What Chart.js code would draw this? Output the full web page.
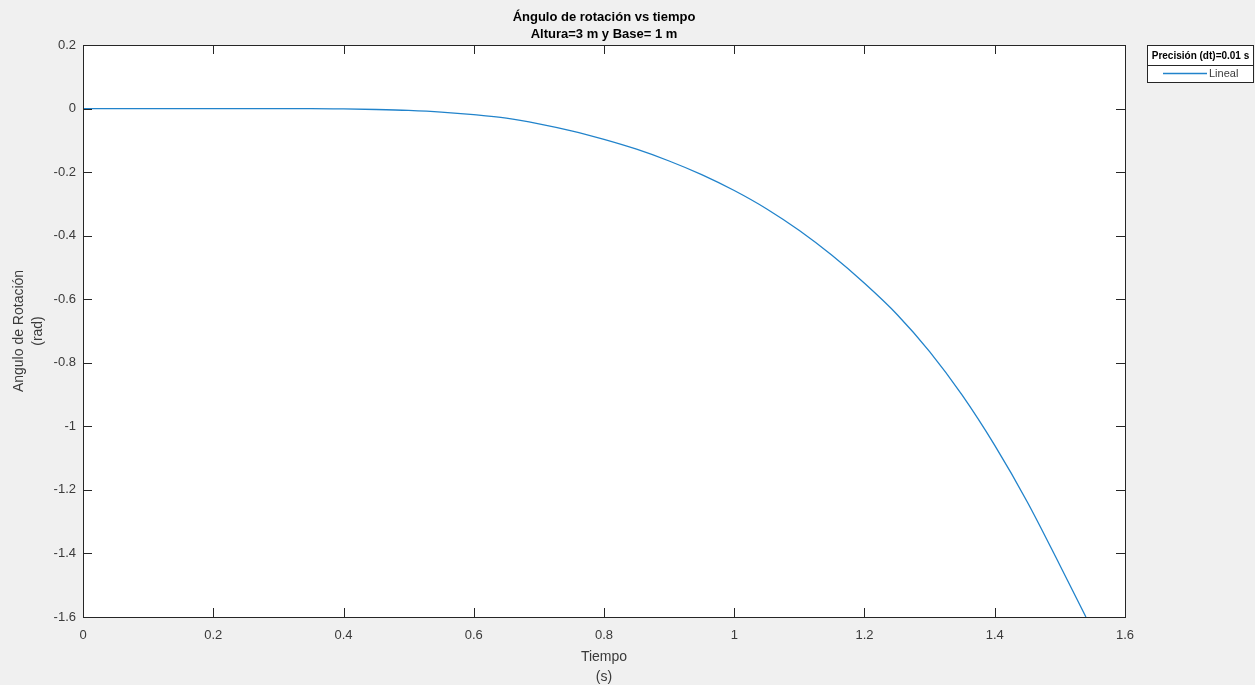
<!DOCTYPE html>
<html>
<head>
<meta charset="utf-8">
<title>Ángulo de rotación vs tiempo</title>
<script src="https://cdn.jsdelivr.net/npm/chart.js@4/dist/chart.umd.min.js"></script>
<style>
    body { margin: 0; background: #f0f0f0; }
    #wrap { width: 1255px; height: 685px; }
</style>
</head>
<body>
<div id="wrap"><canvas id="angle-chart" width="1255" height="685"></canvas></div>
<script>
// Simulated rotation angle of the block (rad) against time (s)
const timeValues = [0, 0.05, 0.1, 0.15, 0.2, 0.25, 0.3, 0.35, 0.4, 0.45, 0.5, 0.55, 0.6, 0.65,
    0.7, 0.75, 0.8, 0.85, 0.9, 0.95, 1.0, 1.05, 1.1, 1.15, 1.2, 1.25, 1.3, 1.35, 1.4, 1.45, 1.5, 1.54];
const angleValues = [0, 0, 0, 0, 0, 0, 0, 0, -0.001, -0.003, -0.006, -0.011, -0.019, -0.030,
    -0.048, -0.070, -0.097, -0.128, -0.165, -0.208, -0.258, -0.316, -0.384, -0.462, -0.550,
    -0.648, -0.765, -0.902, -1.060, -1.238, -1.437, -1.600];

const xTicks = [0, 0.2, 0.4, 0.6, 0.8, 1, 1.2, 1.4, 1.6];
const yTicks = [0.2, 0, -0.2, -0.4, -0.6, -0.8, -1, -1.2, -1.4, -1.6];

const titleLines = ['Ángulo de rotación vs tiempo', 'Altura=3 m y Base= 1 m'];
const xLabelLines = ['Tiempo', '(s)'];
const yLabelLines = ['Angulo de Rotación', '(rad)'];
const legendTitle = 'Precisión (dt)=0.01 s';
const seriesName = 'Lineal';

const FONT = '"Liberation Sans", Arial, sans-serif';
const LINE_COLOR = '#2183cb';
const AXIS_COLOR = '#262626';
const TEXT_COLOR = '#3a3a3a';

const points = timeValues.map((t, i) => ({ x: t, y: angleValues[i] }));

// Figure decorations: backgrounds, box with inward ticks, titles and legend
const figurePlugin = {
    id: 'figure',
    beforeDraw(chart) {
        const { ctx, chartArea: a } = chart;
        ctx.save();
        ctx.fillStyle = '#f0f0f0';
        ctx.fillRect(0, 0, chart.width, chart.height);
        ctx.fillStyle = '#ffffff';
        ctx.fillRect(a.left, a.top, a.right - a.left, a.bottom - a.top);
        ctx.restore();
    },
    afterDraw(chart) {
        const { ctx, chartArea: a, scales } = chart;
        const tickLen = 9;
        ctx.save();

        // box
        ctx.strokeStyle = AXIS_COLOR;
        ctx.lineWidth = 1;
        ctx.strokeRect(a.left + 0.5, a.top + 0.5, a.right - a.left, a.bottom - a.top);

        // inward ticks on all four sides
        ctx.beginPath();
        xTicks.forEach(v => {
            const px = Math.round(scales.x.getPixelForValue(v)) + 0.5;
            ctx.moveTo(px, a.bottom);
            ctx.lineTo(px, a.bottom - tickLen);
            ctx.moveTo(px, a.top);
            ctx.lineTo(px, a.top + tickLen);
        });
        yTicks.forEach(v => {
            const py = Math.round(scales.y.getPixelForValue(v)) + 0.5;
            ctx.moveTo(a.left, py);
            ctx.lineTo(a.left + tickLen, py);
            ctx.moveTo(a.right, py);
            ctx.lineTo(a.right - tickLen, py);
        });
        ctx.stroke();

        const midX = (a.left + a.right) / 2;
        const midY = (a.top + a.bottom) / 2;

        // title
        ctx.fillStyle = '#000000';
        ctx.font = 'bold 13px ' + FONT;
        ctx.textAlign = 'center';
        ctx.textBaseline = 'middle';
        ctx.fillText(titleLines[0], midX, 17);
        ctx.fillText(titleLines[1], midX, 34);

        // axis titles
        ctx.fillStyle = TEXT_COLOR;
        ctx.font = '14px ' + FONT;
        ctx.fillText(xLabelLines[0], midX, 657);
        ctx.fillText(xLabelLines[1], midX, 677);

        ctx.save();
        ctx.translate(19, midY);
        ctx.rotate(-Math.PI / 2);
        ctx.fillText(yLabelLines[0], 0, 0);
        ctx.restore();
        ctx.save();
        ctx.translate(38, midY);
        ctx.rotate(-Math.PI / 2);
        ctx.fillText(yLabelLines[1], 0, 0);
        ctx.restore();

        // legend box outside the axes
        const lx = 1147, ly = 45, lw = 106, lh = 37;
        ctx.fillStyle = '#ffffff';
        ctx.fillRect(lx, ly, lw, lh);
        ctx.strokeStyle = AXIS_COLOR;
        ctx.strokeRect(lx + 0.5, ly + 0.5, lw, lh);
        ctx.beginPath();
        ctx.moveTo(lx, ly + 20.5);
        ctx.lineTo(lx + lw, ly + 20.5);
        ctx.stroke();

        ctx.fillStyle = '#000000';
        ctx.font = 'bold 10px ' + FONT;
        ctx.fillText(legendTitle, lx + lw / 2 + 0.5, ly + 11);

        ctx.strokeStyle = LINE_COLOR;
        ctx.lineWidth = 1.3;
        ctx.beginPath();
        ctx.moveTo(1163, ly + 28.5);
        ctx.lineTo(1207, ly + 28.5);
        ctx.stroke();

        ctx.fillStyle = TEXT_COLOR;
        ctx.font = '11px ' + FONT;
        ctx.textAlign = 'left';
        ctx.fillText(seriesName, 1209, ly + 29);

        ctx.restore();
    }
};

new Chart(document.getElementById('angle-chart'), {
    type: 'line',
    data: {
        datasets: [{
            label: seriesName,
            data: points,
            borderColor: LINE_COLOR,
            borderWidth: 1.3,
            pointRadius: 0,
            fill: false,
            cubicInterpolationMode: 'monotone'
        }]
    },
    options: {
        responsive: false,
        animation: false,
        layout: {
            padding: { left: 0, right: 130, top: 45, bottom: 0 }
        },
        plugins: {
            legend: { display: false },
            title: { display: false },
            tooltip: { enabled: false }
        },
        scales: {
            x: {
                type: 'linear',
                min: 0,
                max: 1.6,
                afterFit(scale) { scale.height = 68; },
                afterBuildTicks(scale) { scale.ticks = xTicks.map(v => ({ value: v })); },
                grid: { display: false, drawTicks: false, tickLength: 0 },
                border: { display: false },
                ticks: {
                    color: TEXT_COLOR,
                    font: { family: FONT, size: 13 },
                    padding: 11,
                    maxRotation: 0,
                    autoSkip: false,
                    callback: v => String(v)
                }
            },
            y: {
                type: 'linear',
                min: -1.6,
                max: 0.2,
                afterFit(scale) { scale.width = 83; },
                afterBuildTicks(scale) { scale.ticks = yTicks.map(v => ({ value: v })); },
                grid: { display: false, drawTicks: false, tickLength: 0 },
                border: { display: false },
                ticks: {
                    color: TEXT_COLOR,
                    font: { family: FONT, size: 13 },
                    padding: 7,
                    autoSkip: false,
                    callback: v => String(v)
                }
            }
        }
    },
    plugins: [figurePlugin]
});
</script>
</body>
</html>
